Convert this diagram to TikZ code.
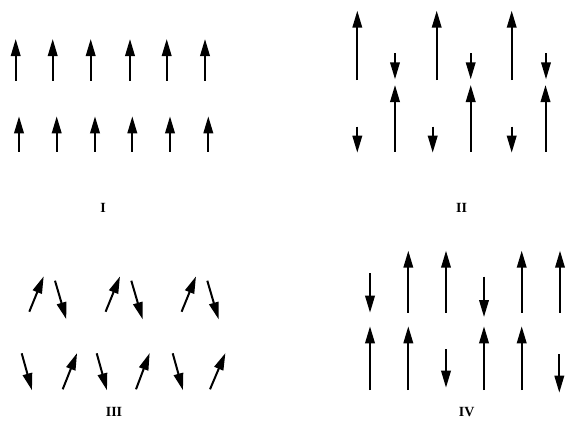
\documentclass[tikz,border=0pt]{standalone}
\usepackage{fontspec}
\setmainfont{Liberation Serif}
\usetikzlibrary{arrows.meta}
\begin{document}
\begin{tikzpicture}[x=1pt,y=-1pt,
  spin/.style={line width=2pt,-{Triangle[length=17pt,width=9.5pt]},shorten >=-1pt},
  lab/.style={font=\bfseries\fontsize{14}{14}\selectfont,inner sep=0pt}]
\useasboundingbox (0,0) rectangle (567,424);
% Panel I
\foreach \x in {15.7,52.7,90.7,130,166.7,205} \draw[spin] (\x,80.7) -- (\x,40);
\foreach \x in {19,56.7,95,132.3,170,208.3} \draw[spin] (\x,151.7) -- (\x,117.3);
\node[lab] (l1) at (103,208) {I};
% Panel II
\foreach \x in {357.3,436.7,511.7} \draw[spin] (\x,80) -- (\x,11.7);
\foreach \x in {395,470.7,546} \draw[spin] (\x,53.3) -- (\x,78.3);
\foreach \x in {395,470.7,545.5} \draw[spin] (\x,151.7) -- (\x,86);
\foreach \x in {357.3,432.7,511.7} \draw[spin] (\x,126.7) -- (\x,151.7);
\node[lab] (l2) at (461.5,208) {II};
% Panel III
\foreach \d in {0,76.3,152.3} {
  \draw[spin] (29.3+\d,311.7) -- (43.3+\d,277.3);
  \draw[spin] (55+\d,280.7) -- (66+\d,318.3);
}
\foreach \d in {0,75,151} {
  \draw[spin] (21.7+\d,353.3) -- (31.7+\d,389.3);
}
\foreach \a/\b in {62.7/76.7,136/149.3,210/225} {
  \draw[spin] (\a,389.3) -- (\b,354);
}
\node[lab] (l3) at (114,412) {III};
% Panel IV
\draw[spin] (370,273.3) -- (370,311.7);
\draw[spin] (408.3,312.7) -- (408.3,251.7);
\draw[spin] (446,312.7) -- (446,251.7);
\draw[spin] (484,276.7) -- (484,316);
\draw[spin] (521.7,312.7) -- (521.7,251.7);
\draw[spin] (560,312.7) -- (560,251.7);
\draw[spin] (370,390) -- (370,327.3);
\draw[spin] (408.3,390) -- (408.3,327.3);
\draw[spin] (446,349.3) -- (446,386.7);
\draw[spin] (484,390) -- (484,327.3);
\draw[spin] (521.7,390) -- (521.7,327.3);
\draw[spin] (559.3,354.3) -- (559.3,391.7);
\node[lab] (l4) at (466.7,412) {IV};
\end{tikzpicture}
\end{document}
